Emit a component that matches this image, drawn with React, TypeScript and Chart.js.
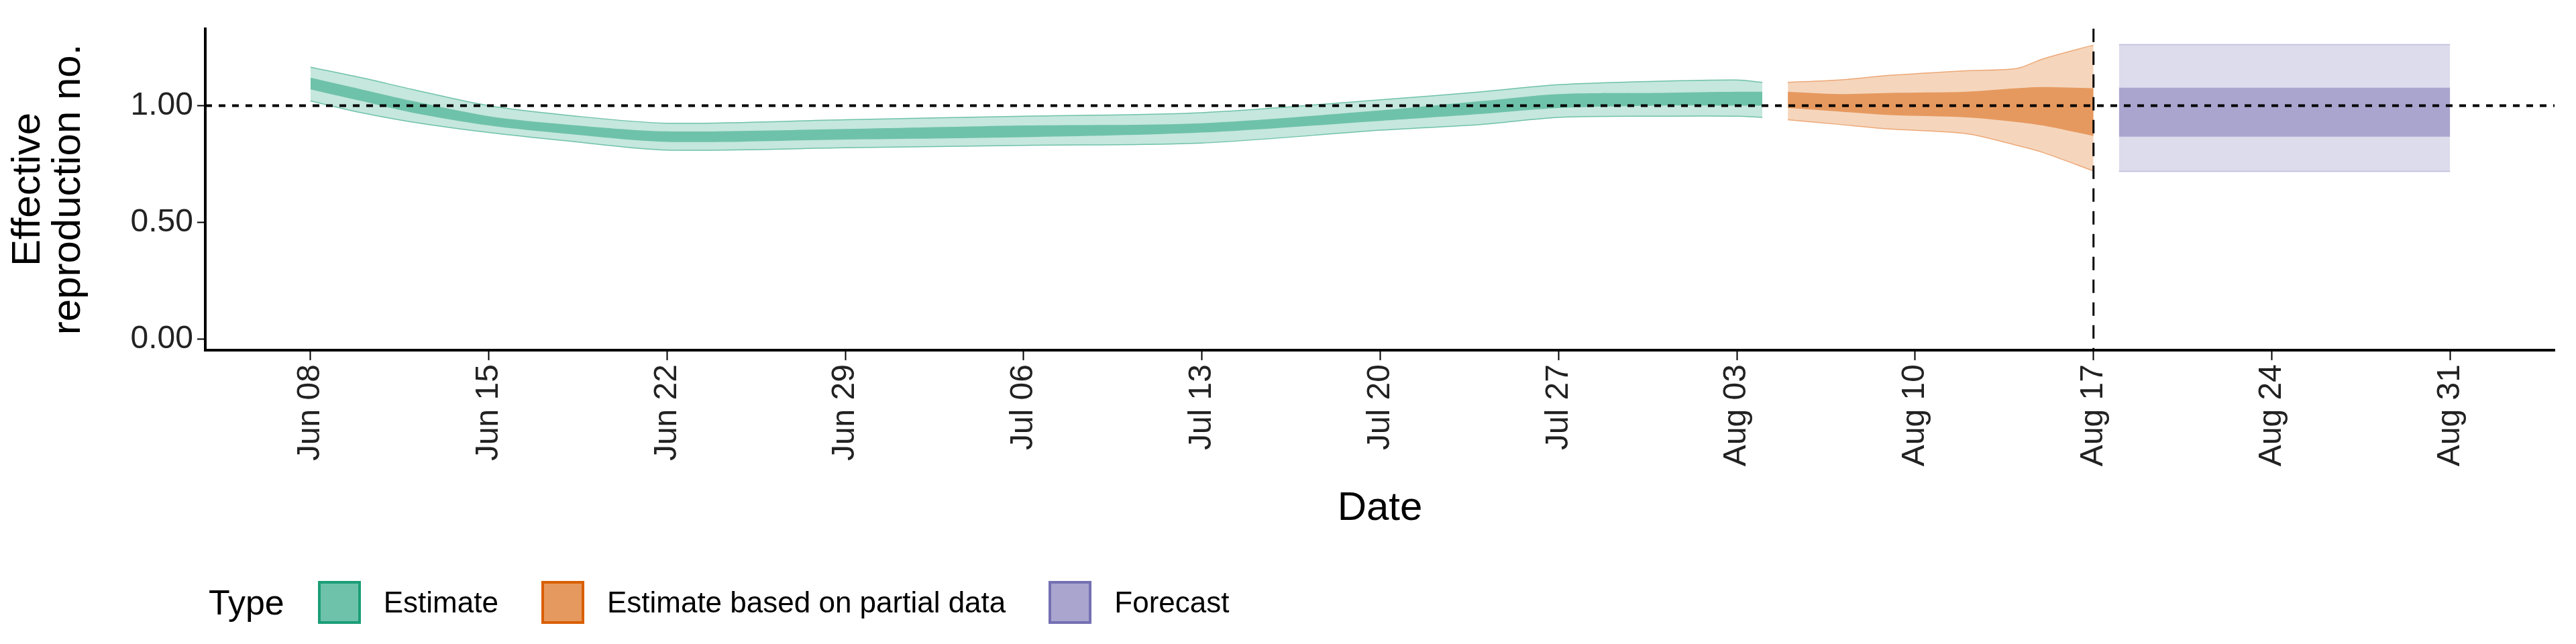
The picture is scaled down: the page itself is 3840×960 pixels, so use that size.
import React, { useEffect, useRef } from 'react';
import Chart from 'chart.js/auto';

const startDate = new Date(2020, 5, 8);
const months = ['Jan', 'Feb', 'Mar', 'Apr', 'May', 'Jun', 'Jul', 'Aug', 'Sep', 'Oct', 'Nov', 'Dec'];
const tickDays = [0, 7, 14, 21, 28, 35, 42, 49, 56, 63, 70, 77, 84];
const yTicks = [0, 0.5, 1];

// estimate (days since Jun 08)
const estDays = [0, 2, 4, 7, 10, 14, 21, 28, 35, 42, 46, 49, 53, 56, 57];
const estOuterHi = [1.165, 1.12, 1.07, 1.0, 0.96, 0.925, 0.94, 0.955, 0.97, 1.025, 1.06, 1.09, 1.105, 1.11, 1.1];
const estInnerHi = [1.12, 1.07, 1.02, 0.955, 0.92, 0.89, 0.9, 0.915, 0.925, 0.98, 1.02, 1.05, 1.055, 1.06, 1.06];
const estInnerLo = [1.07, 1.02, 0.97, 0.915, 0.88, 0.845, 0.855, 0.865, 0.885, 0.935, 0.965, 0.99, 1.0, 1.0, 1.0];
const estOuterLo = [1.02, 0.97, 0.93, 0.885, 0.85, 0.81, 0.82, 0.83, 0.84, 0.895, 0.92, 0.95, 0.955, 0.955, 0.95];

// estimate based on partial data
const partDays = [58, 60, 62, 65, 67, 68, 70];
const partOuterHi = [1.1, 1.11, 1.13, 1.15, 1.16, 1.2, 1.26];
const partInnerHi = [1.06, 1.05, 1.055, 1.06, 1.075, 1.08, 1.075];
const partInnerLo = [0.99, 0.975, 0.96, 0.95, 0.93, 0.915, 0.87];
const partOuterLo = [0.94, 0.92, 0.9, 0.88, 0.83, 0.8, 0.72];

// forecast
const fcDays = [71, 84];
const fcOuterHi = [1.262, 1.262];
const fcInnerHi = [1.077, 1.077];
const fcInnerLo = [0.867, 0.867];
const fcOuterLo = [0.718, 0.718];

const forecastStart = 70;

const pts = (xs: number[], ys: number[]) => xs.map((x, i) => ({ x, y: ys[i] }));

const band = (xs: number[], lo: number[], hi: number[], fill: string, edge: string, bw: number, order: number) => [
  { data: pts(xs, lo), borderColor: edge, borderWidth: bw, backgroundColor: fill, pointRadius: 0, fill: false, order },
  { data: pts(xs, hi), borderColor: edge, borderWidth: bw, backgroundColor: fill, pointRadius: 0, fill: '-1', order },
];

const fmt = (d: number) => {
  const dt = new Date(startDate.getTime() + d * 86400000);
  return `${months[dt.getMonth()]} ${String(dt.getDate()).padStart(2, '0')}`;
};

const FONT = 'Liberation Sans';

const refLines = {
  id: 'refLines',
  afterDatasetsDraw(chart: any) {
    const { ctx, chartArea, scales } = chart;
    ctx.save();
    ctx.strokeStyle = '#000';
    ctx.lineWidth = 4;
    ctx.setLineDash([10, 10]);
    const y1 = scales.y.getPixelForValue(1);
    ctx.beginPath();
    ctx.moveTo(chartArea.left, y1);
    ctx.lineTo(chartArea.right, y1);
    ctx.stroke();
    ctx.lineWidth = 3;
    ctx.setLineDash([20, 14]);
    const x = scales.x.getPixelForValue(forecastStart);
    ctx.beginPath();
    ctx.moveTo(x, chartArea.top);
    ctx.lineTo(x, chartArea.bottom);
    ctx.stroke();
    ctx.restore();
  },
};

const RtChart: React.FC = () => {
  const chartRef = useRef<HTMLCanvasElement | null>(null);
  const chartInstanceRef = useRef<Chart | null>(null);

  useEffect(() => {
    if (chartRef.current) {
      const ctx = chartRef.current.getContext('2d');
      if (ctx) {
        chartInstanceRef.current = new Chart(ctx, {
          type: 'line',
          data: {
            datasets: [
              ...band(estDays, estOuterLo, estOuterHi, '#C5E7DD', '#6FC2AA', 1.5, 2),
              ...band(estDays, estInnerLo, estInnerHi, '#6FC2AA', '#6FC2AA', 0, 1),
              ...band(partDays, partOuterLo, partOuterHi, '#F5D6BD', '#EDA877', 1.5, 2),
              ...band(partDays, partInnerLo, partInnerHi, '#E6995F', '#E6995F', 0, 1),
              ...band(fcDays, fcOuterLo, fcOuterHi, '#DDDCEC', '#BDBADB', 1.5, 2),
              ...band(fcDays, fcInnerLo, fcInnerHi, '#A9A5CF', '#A9A5CF', 0, 1),
            ] as any,
          },
          options: {
            animation: false,
            responsive: false,
            layout: { padding: { left: 0, right: 24, top: 21, bottom: 154 } },
            plugins: { legend: { display: false }, tooltip: { enabled: false } },
            elements: { line: { tension: 0.3 } },
            scales: {
              x: {
                type: 'linear',
                min: -4.13,
                max: 88.1,
                afterBuildTicks: (s: any) => { s.ticks = tickDays.map((v) => ({ value: v })); },
                afterFit: (s: any) => { s.height = 276; },
                grid: { drawOnChartArea: false, tickLength: 15, color: '#000', tickWidth: 2 },
                border: { color: '#000', width: 4 },
                ticks: {
                  color: '#222',
                  font: { family: FONT, size: 48 },
                  maxRotation: 90,
                  minRotation: 90,
                  padding: 6,
                  callback: (v: any) => fmt(Number(v)),
                },
                title: { display: true, text: 'Date', color: '#000', font: { family: FONT, size: 60 }, padding: { top: 0 } },
              },
              y: {
                min: -0.048,
                max: 1.33,
                afterBuildTicks: (s: any) => { s.ticks = yTicks.map((v) => ({ value: v })); },
                afterFit: (s: any) => { s.width = 298; },
                grid: { drawOnChartArea: false, tickLength: 12, color: '#000', tickWidth: 2 },
                border: { color: '#000', width: 4 },
                ticks: {
                  color: '#222',
                  font: { family: FONT, size: 48 },
                  padding: 6,
                  callback: (v: any) => Number(v).toFixed(2),
                },
                title: {
                  display: true,
                  text: ['Effective', 'reproduction no.'],
                  color: '#000',
                  font: { family: FONT, size: 60, lineHeight: 1.0 },
                  padding: { bottom: 10 },
                },
              },
            },
          },
          plugins: [refLines],
        });
      }
    }
    return () => {
      if (chartInstanceRef.current) {
        chartInstanceRef.current.destroy();
      }
    };
  }, []);

  const items = [
    { label: 'Estimate', fill: '#6FC2AA', edge: '#1B9E77' },
    { label: 'Estimate based on partial data', fill: '#E6995F', edge: '#D95F02' },
    { label: 'Forecast', fill: '#A9A5CF', edge: '#7570B3' },
  ];

  return (
    <div style={{ position: 'relative', width: 3824, height: 944, fontFamily: FONT }}>
      <canvas ref={chartRef} width={3824} height={944} style={{ width: 3824, height: 944 }} />
      <div style={{ position: 'absolute', left: 303, top: 858, display: 'flex', alignItems: 'center', gap: 0 }}>
        <span style={{ fontSize: 52, marginRight: 50 }}>Type</span>
        {items.map((it) => (
          <span key={it.label} style={{ display: 'flex', alignItems: 'center', marginRight: 64 }}>
            <span style={{ width: 64, height: 64, boxSizing: 'border-box', background: it.fill, border: `4px solid ${it.edge}`, marginRight: 34 }} />
            <span style={{ fontSize: 44 }}>{it.label}</span>
          </span>
        ))}
      </div>
    </div>
  );
};

export default function App() {
  return <RtChart />;
}
